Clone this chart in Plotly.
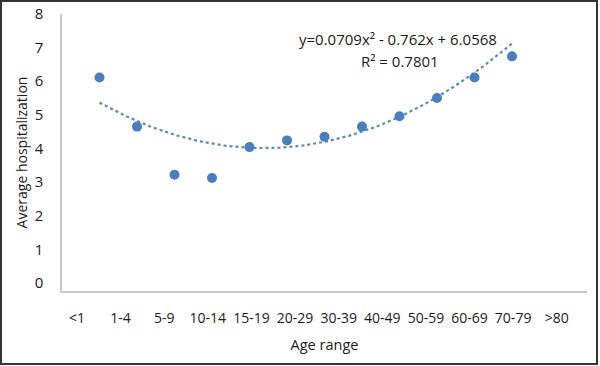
import plotly.graph_objects as go
import numpy as np

# Data
age_labels = ["<1", "1-4", "5-9", "10-14", "15-19", "20-29", "30-39", "40-49",
              "50-59", "60-69", "70-79", ">80"]
point_x = [1, 2, 3, 4, 5, 6, 7, 8, 9, 10, 11, 12]
avg_hosp = [6.11, 4.65, 3.22, 3.12, 4.04, 4.24, 4.35, 4.65, 4.96, 5.50, 6.11, 6.74]
fit_coef = [0.0709, -0.762, 6.0568]
r2 = 0.7801
y_ticks = [0, 1, 2, 3, 4, 5, 6, 7, 8]

xs = np.linspace(min(point_x), max(point_x), 100)
ys = np.polyval(fit_coef, xs)

FONT = "Open Sans, Liberation Sans, sans-serif"
fig = go.Figure()
fig.add_trace(go.Scatter(x=xs, y=ys, mode="lines",
                         line=dict(color="#5b88c2", width=2.2, dash="dot"),
                         hoverinfo="skip", showlegend=False))
fig.add_trace(go.Scatter(x=point_x, y=avg_hosp, mode="markers",
                         marker=dict(color="#4a7ebf", size=10),
                         showlegend=False))

# plot area pixels: x 62..587, y 14..291
L, R, T, B = 62, 13, 14, 75
W, H = 600, 366
pw, ph = W - L - R, H - T - B

# label row is spread wider than the point spacing in the original
label_pos = [0.4 + 1.163 * i for i in range(len(age_labels))]

fig.update_layout(
    width=W, height=H,
    margin=dict(l=L, r=R, t=T, b=B, autoexpand=False),
    paper_bgcolor="white", plot_bgcolor="white",
    font=dict(family=FONT, size=14, color="#1a1a1a"),
    xaxis=dict(range=[0, 14], tickmode="array", automargin=False,
               tickvals=label_pos, ticktext=age_labels,
               showgrid=False, zeroline=False, showline=True,
               linecolor="#c8c8c8", linewidth=1.5, ticks="",
               ticklabelstandoff=13, tickfont=dict(size=14),
               title=dict(text="Age range", font=dict(size=14.5), standoff=14)),
    yaxis=dict(range=[-0.24, 8.0], tickmode="array", tickvals=y_ticks,
               automargin=False,
               showgrid=False, zeroline=False, showline=True,
               linecolor="#c8c8c8", linewidth=1.5, ticks="",
               ticklabelstandoff=14, tickfont=dict(size=15),
               title=dict(text="Average hospitalization", font=dict(size=14),
                          standoff=4)),
    annotations=[
        dict(text=f"y={fit_coef[0]}x² - {abs(fit_coef[1])}x + {fit_coef[2]}",
             xref="paper", yref="paper",
             x=(398 - L) / pw, y=(H - B - 39) / ph,
             showarrow=False, font=dict(size=15), xanchor="center", yanchor="middle"),
        dict(text=f"R² = {r2}", xref="paper", yref="paper",
             x=(400 - L) / pw, y=(H - B - 61) / ph,
             showarrow=False, font=dict(size=15), xanchor="center", yanchor="middle"),
    ],
    shapes=[dict(type="rect", xref="paper", yref="paper",
                 x0=(1 - L) / pw, x1=(597 - L) / pw,
                 y0=(H - B - 364) / ph, y1=(H - B - 1) / ph,
                 line=dict(color="#333333", width=2), layer="below")],
)

fig.write_html("out.html", config={"displayModeBar": False},
               post_script="document.body.style.margin='0';document.body.style.overflow='hidden';")
